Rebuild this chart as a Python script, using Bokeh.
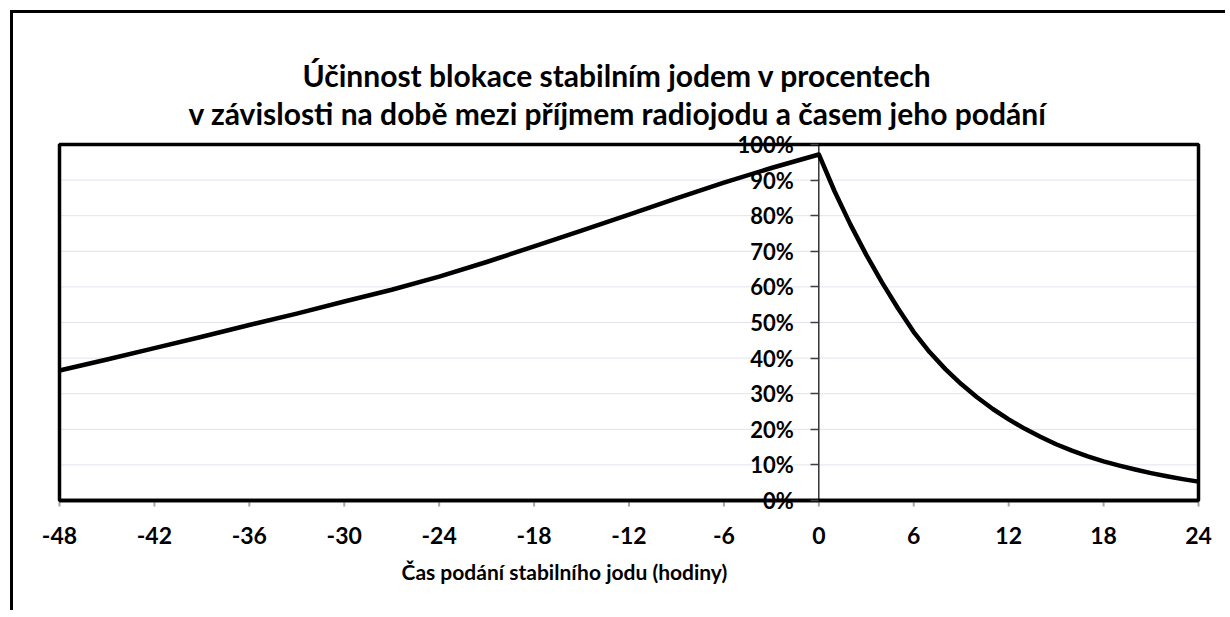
from bokeh.plotting import figure
from bokeh.models import Range1d, FixedTicker, NumeralTickFormatter, Title, ColumnDataSource
from bokeh.embed import file_html
from bokeh.resources import INLINE

# --- data ---
hours_before = [-48, -45, -42, -39, -36, -33, -30, -27, -24, -21, -18, -15, -12, -9, -6, -3, 0]
block_before = [0.365, 0.396, 0.428, 0.460, 0.493, 0.525, 0.559, 0.592, 0.629, 0.670, 0.714, 0.758,
                0.803, 0.849, 0.893, 0.934, 0.972]
hours_after = [1, 2, 3, 4, 5, 6, 7, 8, 9, 10, 11, 12, 13, 14, 15, 16, 17, 18, 19, 20, 21, 22, 23, 24]
block_after = [0.868, 0.775, 0.690, 0.612, 0.540, 0.473, 0.417, 0.369, 0.327, 0.290, 0.257, 0.228,
               0.202, 0.179, 0.158, 0.140, 0.124, 0.110, 0.098, 0.087, 0.077, 0.068, 0.060, 0.053]
x_ticks = [-48, -42, -36, -30, -24, -18, -12, -6, 0, 6, 12, 18, 24]
y_ticks = [0, 0.1, 0.2, 0.3, 0.4, 0.5, 0.6, 0.7, 0.8, 0.9, 1.0]
title_lines = ["Účinnost blokace stabilním jodem v procentech",
               "v závislosti na době  mezi příjmem radiojodu a časem jeho podání"]
x_title = "Čas podání stabilního jodu (hodiny)"

FONT = "Lato"

# box (data area) 1139 x 356 px; frame padded so edge labels are not clipped
PAD_X = 6 * 72 / 1139
PAD_Y = 14 / 356
x0, x1 = x_ticks[0], x_ticks[-1]
y0, y1 = y_ticks[0], y_ticks[-1]

p = figure(width=1215, height=600, output_backend="svg", toolbar_location=None,
           x_range=Range1d(x0 - PAD_X, x1 + PAD_X), y_range=Range1d(y0 - PAD_Y, y1 + PAD_Y),
           min_border_left=40, min_border_right=24, min_border_top=117, min_border_bottom=99,
           background_fill_color="white", border_fill_color="white")
p.styles = {"border-left": "3px solid black", "border-top": "3px solid black",
            "margin-left": "10px", "margin-top": "10px"}
p.outline_line_color = None
p.xgrid.visible = False
p.ygrid.visible = False

# gridlines
p.segment(x0=[x0] * len(y_ticks), x1=[x1] * len(y_ticks), y0=y_ticks, y1=y_ticks,
          line_color="#e2e2f0", line_width=1)

# x-axis tick marks below y=0
TICK = 6 / 356
p.segment(x0=x_ticks, x1=x_ticks, y0=[y0] * len(x_ticks), y1=[y0 - TICK] * len(x_ticks),
          line_color="#a6a6a6", line_width=2)
# x-axis line
p.segment(x0=[x0], x1=[x1], y0=[y0], y1=[y0], line_color="#6a6a6a", line_width=4)
# box
p.quad(left=[x0], right=[x1], bottom=[y0], top=[y1], fill_color=None,
       line_color="black", line_width=3.5)
# y-axis line at x=0
p.segment(x0=[0], x1=[0], y0=[y0], y1=[y1], line_color="black", line_width=1.2)

src = ColumnDataSource(data=dict(x=hours_before + hours_after, y=block_before + block_after))
p.line("x", "y", source=src, line_color="black", line_width=4.5, line_join="round")

# x axis (labels only)
xa = p.xaxis[0]
xa.ticker = FixedTicker(ticks=x_ticks)
xa.major_label_overrides = {t: str(t) for t in x_ticks}
xa.axis_line_color = None
xa.major_tick_line_color = None
xa.minor_tick_line_color = None
xa.major_tick_in = 0
xa.major_tick_out = 0
xa.major_label_text_font = FONT
xa.major_label_text_font_style = "bold"
xa.major_label_text_font_size = "23px"
xa.major_label_text_color = "black"
xa.major_label_standoff = 12

# y axis at x = 0
ya = p.yaxis[0]
ya.fixed_location = 0
ya.ticker = FixedTicker(ticks=y_ticks)
ya.formatter = NumeralTickFormatter(format="0%")
ya.axis_line_color = None
ya.major_tick_line_color = "#404040"
ya.major_tick_line_width = 1.5
ya.major_tick_in = 0
ya.major_tick_out = 8
ya.minor_tick_line_color = None
ya.major_label_text_font = FONT
ya.major_label_text_font_style = "bold"
ya.major_label_text_font_size = "22px"
ya.major_label_text_color = "black"
ya.major_label_standoff = 17

# titles (later added = farther from the frame)
p.add_layout(Title(text=title_lines[1], align="left", offset=135, text_font=FONT,
                   text_font_style="bold", text_font_size="30px", text_color="black",
                   standoff=0), "above")
p.add_layout(Title(text=title_lines[0], align="left", offset=249, text_font=FONT,
                   text_font_style="bold", text_font_size="30px", text_color="black",
                   standoff=0), "above")

p.add_layout(Title(text=x_title, align="left", offset=348, vertical_align="bottom",
                   text_font=FONT, text_font_style="bold",
                   text_font_size="21px", text_color="black", standoff=20), "below")

open("out.html", "w").write(file_html(p, INLINE))
